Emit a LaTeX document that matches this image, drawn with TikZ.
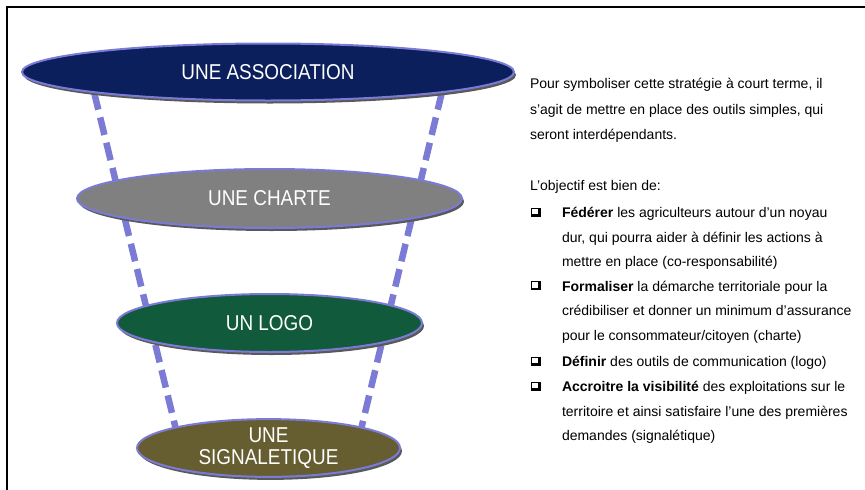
\documentclass[tikz,border=0pt]{standalone}
\usepackage{fontspec}
\setmainfont{Liberation Sans}
\newfontfamily\ellfont[FakeStretch=0.88]{Liberation Sans}
\usetikzlibrary{shapes.geometric,shadows,backgrounds}
\definecolor{linec}{HTML}{7B7BD6}
\definecolor{navyfill}{HTML}{0A1F5C}
\definecolor{grayfill}{HTML}{808080}
\definecolor{greenfill}{HTML}{115A3B}
\definecolor{olivefill}{HTML}{665E31}
\begin{document}
\begin{tikzpicture}[x=1pt,y=-1pt,
  ell/.style={ellipse, draw=linec, line width=2pt, inner sep=0pt, outer sep=0pt,
    text=white, font=\ellfont\fontsize{21.5}{22}\selectfont, align=center,
    drop shadow={shadow xshift=2pt, shadow yshift=-3pt, fill=black!65, opacity=1}},
  dashln/.style={draw=linec, line width=6.5pt, dash pattern=on 18pt off 8pt},
  txt/.style={anchor=base west, inner sep=0pt, outer sep=0pt, font=\fontsize{14}{17}\selectfont},
  bulbox/.style={fill=black},
  bulin/.style={fill=white},
]
\useasboundingbox (0,0) rectangle (865,490);
% frame
\draw[line width=2pt] (865,7) -- (7,7) -- (7,490);

% ellipses
\node[ell, fill=navyfill, minimum width=492pt, minimum height=57pt] (assoc) at (268,72) {UNE ASSOCIATION};
\node[ell, fill=grayfill, minimum width=385pt, minimum height=59pt] (charte) at (269.5,198.5) {UNE CHARTE};
\node[ell, fill=greenfill, minimum width=305pt, minimum height=58pt] (logo) at (269.5,323) {UN LOGO};
\node[ell, fill=olivefill, minimum width=263pt, minimum height=56pt] (sig) at (268.5,448) {UNE\\SIGNALETIQUE};

\begin{scope}[on background layer]
  \draw[dashln] (assoc.south west) -- (sig.north west);
  \draw[dashln] (assoc.south east) -- (sig.north east);
\end{scope}

% right text
\node[txt] (p1) at (530,88.5) {Pour symboliser cette stratégie à court terme, il};
\node[txt] (p2) at (530,114) {s’agit de mettre en place des outils simples, qui};
\node[txt] (p3) at (530,139.5) {seront interdépendants.};
\node[txt] (obj) at (530,190.5) {L’objectif est bien de:};

\node[txt] (f1) at (562,217.5) {\textbf{Fédérer} les agriculteurs autour d’un noyau};
\node[txt] (f2) at (562,242) {dur, qui pourra aider à définir les actions à};
\node[txt] (f3) at (562,266.5) {mettre en place (co-responsabilité)};

\node[txt] (g1) at (562,291) {\textbf{Formaliser} la démarche territoriale pour la};
\node[txt] (g2) at (562,315.5) {crédibiliser et donner un minimum d’assurance};
\node[txt] (g3) at (562,340) {pour le consommateur/citoyen (charte)};

\node[txt] (h1) at (562,366.5) {\textbf{Définir} des outils de communication (logo)};

\node[txt] (k1) at (562,391.5) {\textbf{Accroitre la visibilité} des exploitations sur le};
\node[txt] (k2) at (562,416) {territoire et ainsi satisfaire l’une des premières};
\node[txt] (k3) at (562,440.5) {demandes (signalétique)};

% bullets
\foreach \yy in {217.5,291,366.5,391.5} {
  \fill[bulbox] (530.5,\yy-10) rectangle (540.5,\yy-1);
  \fill[bulin] (531.8,\yy-8.7) rectangle (538.2,\yy-3.2);
}
\end{tikzpicture}
\end{document}
